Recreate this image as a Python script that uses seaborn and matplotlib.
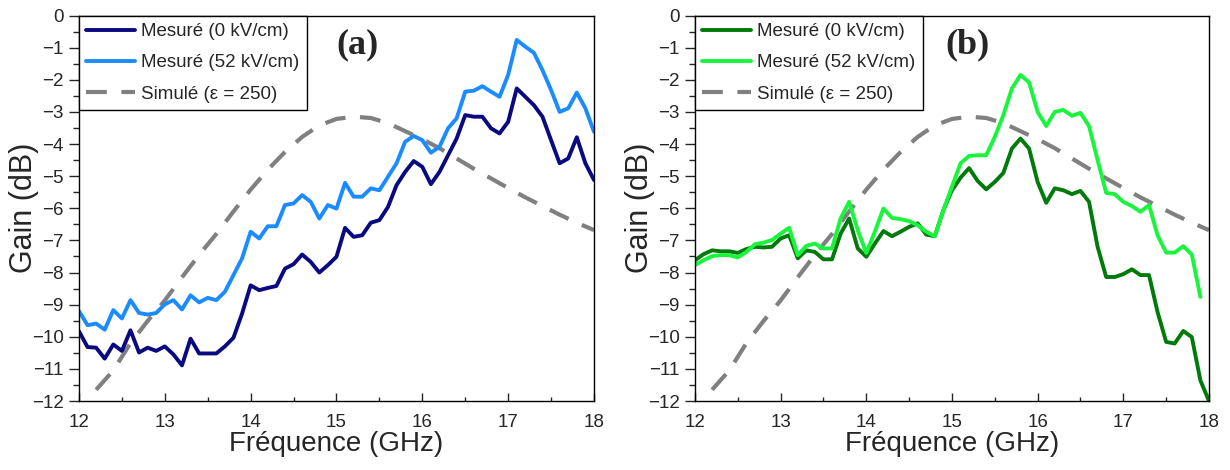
import numpy as np
import pandas as pd
import matplotlib
matplotlib.use("Agg")
import matplotlib.pyplot as plt
import seaborn as sns
from matplotlib.ticker import MultipleLocator

# frequency grid of the measurements (GHz)
freq = np.round(np.arange(12.0, 18.01, 0.1), 1)

# panel (a)
gain_a_0kv = [-9.83, -10.32, -10.34, -10.68, -10.24, -10.44, -9.80, -10.49, -10.34, -10.44,
              -10.30, -10.55, -10.89, -10.06, -10.52, -10.52, -10.52, -10.30, -10.03, -9.28,
              -8.40, -8.55, -8.48, -8.42, -7.88, -7.74, -7.44, -7.67, -8.00, -7.77,
              -7.51, -6.61, -6.89, -6.84, -6.45, -6.37, -5.96, -5.28, -4.87, -4.53,
              -4.71, -5.25, -4.87, -4.35, -3.83, -3.10, -3.15, -3.15, -3.51, -3.67,
              -3.31, -2.27, -2.53, -2.79, -3.15, -3.88, -4.60, -4.45, -3.79, -4.60,
              -5.12]
gain_a_52kv = [-9.20, -9.64, -9.59, -9.78, -9.17, -9.43, -8.86, -9.26, -9.31, -9.26,
               -8.99, -8.86, -9.15, -8.71, -8.93, -8.79, -8.86, -8.60, -8.08, -7.56,
               -6.73, -6.94, -6.56, -6.56, -5.90, -5.85, -5.59, -5.80, -6.32, -5.90,
               -6.01, -5.21, -5.64, -5.64, -5.38, -5.44, -5.02, -4.60, -3.93, -3.75,
               -3.88, -4.27, -4.09, -3.51, -3.20, -2.37, -2.34, -2.20, -2.37, -2.53,
               -1.85, -0.76, -0.97, -1.16, -1.70, -2.32, -3.00, -2.89, -2.40, -2.89,
               -3.62]

# panel (b)
gain_b_0kv = [-7.62, -7.43, -7.31, -7.34, -7.34, -7.39, -7.27, -7.20, -7.22, -7.20,
              -6.94, -6.84, -7.56, -7.31, -7.36, -7.59, -7.59, -6.79, -6.32, -7.25,
              -7.51, -7.10, -6.71, -6.87, -6.73, -6.58, -6.47, -6.82, -6.87, -6.06,
              -5.44, -5.05, -4.75, -5.15, -5.41, -5.18, -4.90, -4.14, -3.83, -4.14,
              -5.18, -5.83, -5.38, -5.44, -5.56, -5.46, -5.80, -7.20, -8.14, -8.14,
              -8.05, -7.90, -8.08, -8.08, -9.23, -10.16, -10.21, -9.82, -10.01, -11.36,
              -12.00]
gain_b_52kv = [-7.77, -7.62, -7.49, -7.46, -7.46, -7.53, -7.36, -7.12, -7.07, -6.99,
               -6.79, -6.61, -7.46, -7.17, -7.10, -7.25, -7.25, -6.32, -5.80, -6.68,
               -7.39, -6.73, -6.01, -6.30, -6.34, -6.40, -6.53, -6.73, -6.87, -6.06,
               -5.33, -4.60, -4.37, -4.35, -4.35, -3.78, -3.10, -2.27, -1.85, -2.08,
               -3.00, -3.44, -3.00, -2.94, -3.12, -3.03, -3.44, -4.50, -5.52, -5.56,
               -5.80, -5.93, -6.11, -5.90, -6.84, -7.38, -7.38, -7.18, -7.44, -8.76]

# simulated response (eps = 250), same in both panels
freq_sim = [12.2, 12.4, 12.6, 12.8, 13.0, 13.2, 13.4, 13.6, 13.8, 14.0,
            14.2, 14.4, 14.6, 14.8, 15.0, 15.2, 15.4, 15.6, 15.8, 16.0,
            16.2, 16.4, 16.6, 16.8, 17.0, 17.2, 17.4, 17.6, 17.8, 18.0]
gain_sim = [-11.65, -11.05, -10.20, -9.51, -8.87, -8.15, -7.45, -6.80, -6.10, -5.42,
            -4.80, -4.25, -3.78, -3.42, -3.22, -3.15, -3.19, -3.35, -3.60, -3.85,
            -4.13, -4.45, -4.77, -5.07, -5.37, -5.66, -5.93, -6.20, -6.45, -6.68]

labels = ["Mesuré (0 kV/cm)", "Mesuré (52 kV/cm)", "Simulé (ε = 250)"]

sns.set_style("ticks")
plt.rcParams['font.family'] = ['Liberation Sans', 'DejaVu Sans']

fig = plt.figure(figsize=(12.3, 4.7), dpi=100)
ax_a = fig.add_axes([0.0642, 0.1468, 0.4187, 0.8202])
ax_b = fig.add_axes([0.5650, 0.1468, 0.4179, 0.8202])


def draw_panel(ax, g0, g52, c0, c52, tag, tag_x):
    sns.lineplot(x=freq[:len(g0)], y=g0, ax=ax, color=c0, lw=2.8, label=labels[0])
    sns.lineplot(x=freq[:len(g52)], y=g52, ax=ax, color=c52, lw=2.8, label=labels[1])
    sns.lineplot(x=freq_sim, y=gain_sim, ax=ax, color="#808080", lw=3,
                 dashes=False, label=labels[2])
    ax.lines[2].set_dashes([5, 3.5])
    ax.lines[2].set_zorder(1)

    ax.set_xlim(12, 18)
    ax.set_ylim(-12, 0)
    ax.xaxis.set_major_locator(MultipleLocator(1))
    ax.xaxis.set_minor_locator(MultipleLocator(0.5))
    ax.yaxis.set_major_locator(MultipleLocator(1))
    ax.yaxis.set_minor_locator(MultipleLocator(0.5))
    ax.tick_params(axis="x", which="major", direction="in", length=6, width=1, labelsize=13.5, pad=9)
    ax.tick_params(axis="x", which="minor", direction="in", length=3, width=1)
    ax.tick_params(axis="y", which="major", direction="out", length=7, width=1, labelsize=13.5, pad=4)
    ax.tick_params(axis="y", which="minor", direction="out", length=4, width=1)
    for sp in ax.spines.values():
        sp.set_visible(True)
        sp.set_color("black")
        sp.set_linewidth(1)
    ax.set_xlabel("Fréquence (GHz)", fontsize=20, labelpad=0)
    ax.set_ylabel("Gain (dB)", fontsize=22)
    ax.yaxis.set_label_coords(-0.078, 0.5)

    leg = ax.legend(loc="upper left", borderaxespad=0, fontsize=13.5, handlelength=2.6,
                    handletextpad=0.3, labelspacing=0.75, borderpad=0.4,
                    fancybox=False, framealpha=1, edgecolor="black")
    leg.get_frame().set_linewidth(1)
    leg.get_lines()[2].set_dashes([5, 3.5])

    ax.text(tag_x, 0.925, tag, transform=ax.transAxes, ha="center", va="center",
            fontsize=26, fontweight="bold", family="Liberation Serif")


draw_panel(ax_a, gain_a_0kv, gain_a_52kv, "#0a0a80", "#1a8cff", "(a)", 0.54)
draw_panel(ax_b, gain_b_0kv, gain_b_52kv, "#007a0a", "#19f53c", "(b)", 0.53)

fig.savefig("out.png", dpi=100)
